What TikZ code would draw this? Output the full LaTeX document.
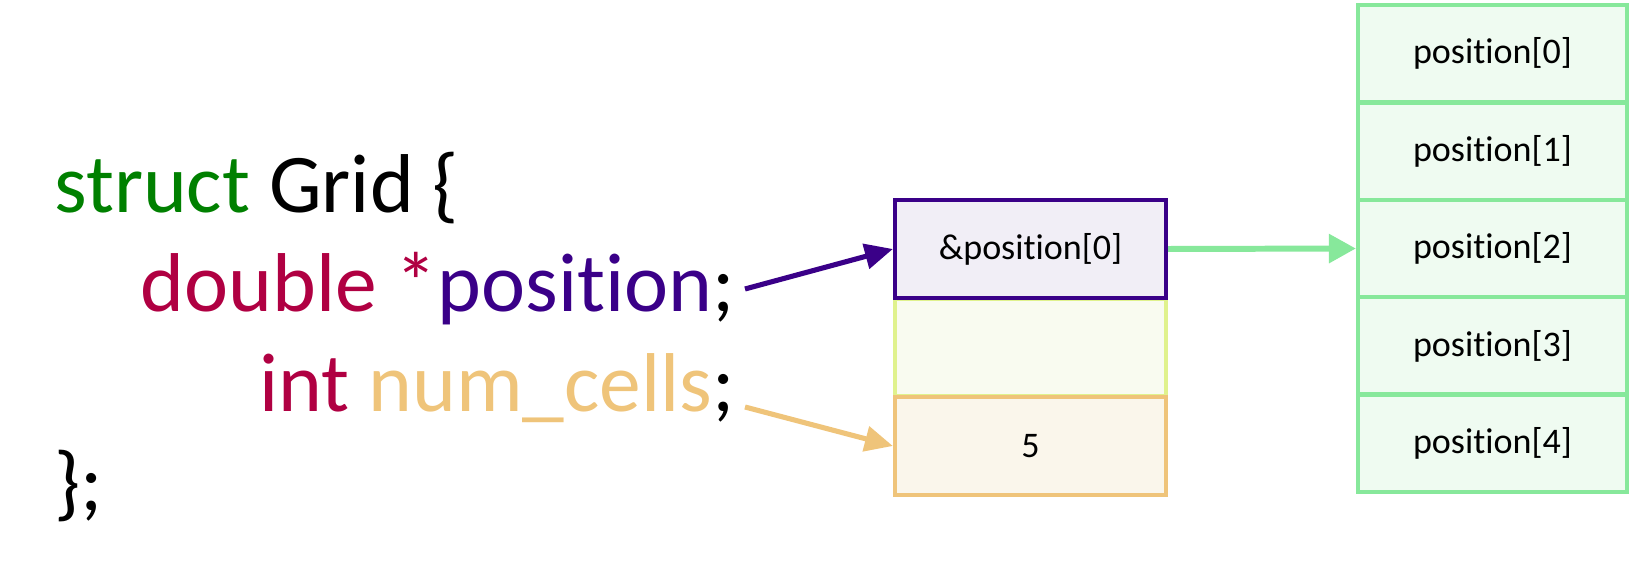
\documentclass[tikz,border=0pt]{standalone}
\usepackage{fontspec}
\setmainfont{Carlito}[Ligatures=NoCommon]
\usetikzlibrary{arrows.meta}
\definecolor{StructGreen}{HTML}{008000}
\definecolor{KeyRed}{HTML}{B00042}
\definecolor{PtrPurple}{HTML}{3A0088}
\definecolor{PtrFill}{HTML}{F1EEF6}
\definecolor{PadYellow}{HTML}{E0F28D}
\definecolor{PadFill}{HTML}{F9FBF0}
\definecolor{CellOrange}{HTML}{EFC47A}
\definecolor{CellFill}{HTML}{FAF6EB}
\definecolor{HeapGreen}{HTML}{87E89B}
\definecolor{HeapFill}{HTML}{EFFBF1}

\begin{document}
\begin{tikzpicture}[x=1cm,y=1cm,
  code/.style={inner sep=0, font=\fontsize{47.5}{57}\selectfont},
  memcell/.style={draw, line width=2.4pt, minimum width=5.42cm, minimum height=1.96cm, inner sep=0, font=\fontsize{20.5}{24}\selectfont},
  arrcell/.style={memcell, draw=HeapGreen, fill=HeapFill, minimum width=5.38cm, minimum height=1.948cm},
  ptrarrow/.style={PtrPurple, line width=2.9pt, -{Triangle[length=0.56cm,width=0.5cm]}},
  cellarrow/.style={CellOrange, line width=2.9pt, -{Triangle[length=0.56cm,width=0.5cm]}},
  heaparrow/.style={HeapGreen, line width=3.4pt, -{Triangle[length=0.54cm,width=0.56cm]}}]
\useasboundingbox (0,0) rectangle (32.62,11.72);
% the struct source
\node[code, anchor=base west] (line1) at (1.08,7.46){\textcolor{StructGreen}{struct} Grid \{};
\node[code, anchor=base east] (line2) at (14.70,5.48){\textcolor{KeyRed}{double *}\textcolor{PtrPurple}{position};};
\node[code, anchor=base east] (line3) at (14.70,3.48){\textcolor{KeyRed}{int} \textcolor{CellOrange}{num\_cells};};
\node[code, anchor=base west] (line4) at (1.08,1.50){\};};
% the struct in memory
\node[memcell, draw=PadYellow, fill=PadFill] (mem1) at (20.61,4.77){};
\node[memcell, draw=PtrPurple, fill=PtrFill] (mem0) at (20.61,6.74){\&position[0]};
\node[memcell, draw=CellOrange, fill=CellFill] (mem2) at (20.61,2.80){5};
% the array on the heap
\foreach \i in {0,...,4}{\node[arrcell] (pos\i) at (29.85,{10.646-1.948*\i}){position[\i]};}
\coordinate (ptrtail) at (14.90,5.94);
\coordinate (numtail) at (14.90,3.58);
\draw[ptrarrow] (ptrtail) -- (mem0.west);
\draw[cellarrow] (numtail) -- (mem2.west);
\draw[heaparrow] (mem0.east) -- (pos2.west);
\end{tikzpicture}
\end{document}
